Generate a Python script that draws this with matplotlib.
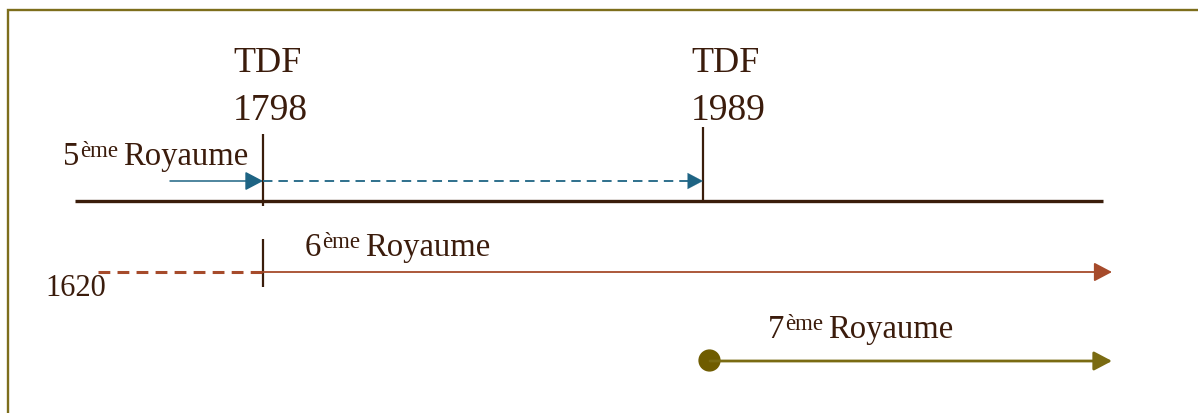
import matplotlib
matplotlib.use("Agg")
import matplotlib.pyplot as plt

# ---- content ----
event_names = ["TDF", "TDF"]
event_years = ["1798", "1989"]
kingdom_nums = ["5", "6", "7"]
kingdom_sup = ["ème", "ème", "ème"]
kingdom_word = ["Royaume", "Royaume", "Royaume"]
origin_year = "1620"

# ---- style ----
plt.rcParams['font.family'] = ['Liberation Serif', 'DejaVu Serif']
plt.rcParams['lines.scale_dashes'] = False
TXT = '#3b1c0c'
LINE = '#3a1d0b'
BLUE = '#1e6484'
RED = '#a64b2b'
OLIVE = '#7a6b12'
DOT = '#6f5c00'
BORDER = '#7d6e1c'

W, H = 1198, 414
fig = plt.figure(figsize=(W / 100, H / 100), dpi=100)
ax = fig.add_axes([0, 0, 1, 1])
ax.set_xlim(0, W)
ax.set_ylim(H, 0)
ax.axis('off')
renderer = fig.canvas.get_renderer()

# frame
ax.plot([8, 8, W + 5], [H + 5, 11, 11], color=BORDER, lw=1.7, solid_joinstyle='miter')

# layout positions (pixels)
ev_x = [263, 703]
ev_text_x = [233, 691]
ev_top = [135, 128]
main_y = 202

# main timeline
ax.plot([75, 1103], [main_y, main_y], color=LINE, lw=2.4, solid_capstyle='butt')
# event ticks
ax.plot([ev_x[0], ev_x[0]], [ev_top[0], 207], color=LINE, lw=1.6, solid_capstyle='butt')
ax.plot([ev_x[1], ev_x[1]], [ev_top[1], main_y], color=LINE, lw=1.6, solid_capstyle='butt')
ax.plot([ev_x[0], ev_x[0]], [240, 288], color=LINE, lw=1.6, solid_capstyle='butt')

for name, yr, tx in zip(event_names, event_years, ev_text_x):
    ax.text(tx, 72, name, fontsize=26, color=TXT, va='baseline', ha='left')
    ax.text(tx, 120, yr, fontsize=27, color=TXT, va='baseline', ha='left')


def arrow(x0, x1, y, color, lw, hl=11, hw=5.8):
    ax.annotate('', xy=(x1, y), xytext=(x0, y),
                arrowprops=dict(arrowstyle=f'-|>,head_length={hl},head_width={hw}',
                                color=color, lw=lw, shrinkA=0, shrinkB=0,
                                mutation_scale=1))


# 5th kingdom (blue)
arrow(170, ev_x[0], 182, BLUE, 1.1)
ax.plot([ev_x[0], ev_x[1] - 12], [182, 182], color=BLUE, lw=1.3,
        linestyle=(0, (6.8, 4.3)))
arrow(ev_x[1] - 14, ev_x[1], 182, BLUE, 0.1)

# 6th kingdom (red)
ax.plot([98, ev_x[0]], [273, 273], color=RED, lw=2.2, linestyle=(0, (8.5, 5.2)))
arrow(ev_x[0], 1112, 273, RED, 1.3)
ax.text(45, 296, origin_year, fontsize=22, color=TXT, va='baseline', ha='left')

# 7th kingdom (olive)
arrow(710, 1112, 362, OLIVE, 2.0)
ax.plot([709], [361], marker='o', ms=15, color=DOT, mec=DOT)

# kingdom labels (pieces chained by measured width)
lab_pos = [(63, 165), (305, 256), (768, 338)]
for num, sup, word, (xn, yb) in zip(kingdom_nums, kingdom_sup, kingdom_word, lab_pos):
    t1 = ax.text(xn, yb, num, fontsize=23.5, color=TXT, va='baseline', ha='left')
    x = xn + t1.get_window_extent(renderer).width + 1
    t2 = ax.text(x, yb - 8, sup, fontsize=16.5, color=TXT, va='baseline', ha='left')
    x = x + t2.get_window_extent(renderer).width + 5
    ax.text(x, yb, word, fontsize=23.5, color=TXT, va='baseline', ha='left')

fig.savefig('out.png', dpi=100)
